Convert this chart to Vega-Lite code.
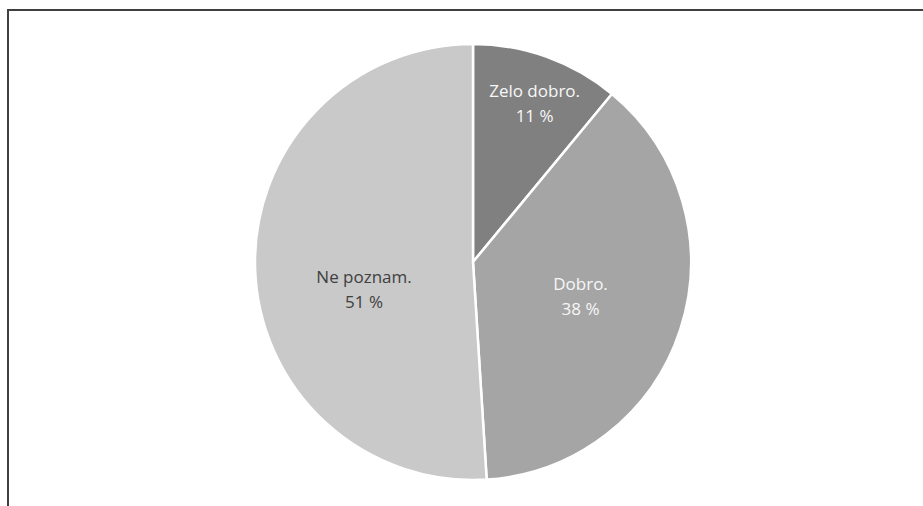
{
  "$schema": "https://vega.github.io/schema/vega-lite/v6.json",
  "autosize": {"type": "none"},
  "width": 930,
  "height": 504,
  "padding": {"left": 8, "top": 10, "right": 0, "bottom": 0},
  "background": "white",
  "view": {"stroke": "#404040", "strokeWidth": 2, "fill": "white"},
  "data": {"values": [
    {"cat": "Zelo dobro.", "value": 11, "line1": "Zelo dobro.", "line2": "11 %"},
    {"cat": "Dobro.", "value": 38, "line1": "Dobro.", "line2": "38 %"},
    {"cat": "Ne poznam.", "value": 51, "line1": "Ne poznam.", "line2": "51 %"}
  ]},
  "transform": [{"calculate": "[datum.line1, datum.line2]", "as": "label"}],
  "encoding": {
    "theta": {"field": "value", "type": "quantitative", "stack": true},
    "order": {"field": "value", "type": "quantitative", "sort": "ascending"}
  },
  "layer": [
    {
      "mark": {"type": "arc", "outerRadius": 218, "stroke": "white", "strokeWidth": 2.5},
      "encoding": {
        "color": {"field": "cat", "type": "nominal", "legend": null,
          "scale": {"domain": ["Zelo dobro.", "Dobro.", "Ne poznam."], "range": ["#808080", "#a5a5a5", "#c9c9c9"]}}
      }
    },
    {
      "mark": {"type": "text", "radius": 170, "dx": 4, "dy": -10, "font": "Open Sans", "fontSize": 17, "lineHeight": 25, "color": "#f7f7f7", "baseline": "middle", "align": "center"},
      "encoding": {
        "text": {"condition": {"test": "datum.cat === 'Zelo dobro.'", "field": "label"}, "value": ""}
      }
    },
    {
      "mark": {"type": "text", "radius": 112, "dx": 1, "dy": -12, "font": "Open Sans", "fontSize": 17, "lineHeight": 25, "color": "#f7f7f7", "baseline": "middle", "align": "center"},
      "encoding": {
        "text": {"condition": {"test": "datum.cat === 'Dobro.'", "field": "label"}, "value": ""}
      }
    },
    {
      "mark": {"type": "text", "radius": 112, "dx": 3, "dy": 12, "font": "Open Sans", "fontSize": 17, "lineHeight": 25, "color": "#404040", "baseline": "middle", "align": "center"},
      "encoding": {
        "text": {"condition": {"test": "datum.cat === 'Ne poznam.'", "field": "label"}, "value": ""}
      }
    }
  ]
}
